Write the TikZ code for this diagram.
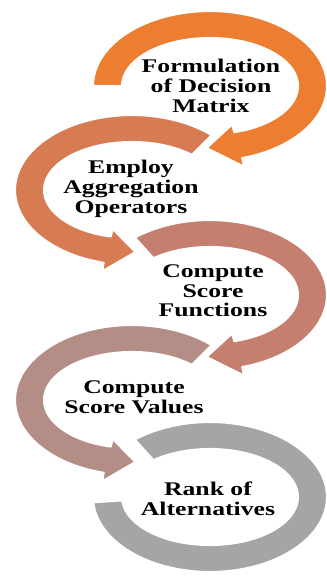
\documentclass[tikz,border=0pt]{standalone}
\usepackage{fontspec}
\setmainfont{Liberation Serif}[FakeStretch=1.33]
\usepackage{tikz}
\usetikzlibrary{positioning}
\definecolor{acorange}{RGB}{237,125,49}
\definecolor{acrust}{RGB}{215,123,82}
\definecolor{acsalmon}{RGB}{196,127,111}
\definecolor{acmauve}{RGB}{180,141,135}
\definecolor{acgrey}{RGB}{165,165,165}
\tikzstyle{ring} = [draw=white, line width=1.2pt, line join=round]
\tikzstyle{steptext} = [font=\bfseries\fontsize{11}{11.2}\selectfont, align=center, text=black]

\begin{document}
\begin{tikzpicture}[x=0.02cm, y=0.02cm]
\useasboundingbox (0,0) rectangle (326,-576);
% Ring centres
\coordinate (c1) at (210,-86);
\coordinate (c2) at (132,-190);
\coordinate (c3) at (210,-295);
\coordinate (c4) at (132,-400);
\coordinate (c5) at (210,-497);

% Last ring, no head
\fill[ring, fill=acgrey] ([shift={(c5)}]130:117 and 75) arc[start angle=130, end angle=-176, x radius=117, y radius=75]
  -- ([shift={(c5)}]-176:88 and 48) arc[start angle=-176, end angle=130, x radius=88, y radius=48] -- cycle;

% Left rings turn anticlockwise
\fill[ring, fill=acmauve] ([shift={(c4)}]47:117 and 75) arc[start angle=47, end angle=256, x radius=117, y radius=75]
  -- ([shift={(c4)}]256:124 and 84) -- ([shift={(c4)}]272:102 and 62) -- ([shift={(c4)}]256:80 and 40)
  -- ([shift={(c4)}]256:88 and 48) arc[start angle=256, end angle=47, x radius=88, y radius=48] -- cycle;

% Right rings turn clockwise
\fill[ring, fill=acsalmon] ([shift={(c3)}]130:117 and 75) arc[start angle=130, end angle=-74, x radius=117, y radius=75]
  -- ([shift={(c3)}]-74:124 and 84) -- ([shift={(c3)}]-92:102 and 62) -- ([shift={(c3)}]-74:80 and 40)
  -- ([shift={(c3)}]-74:88 and 48) arc[start angle=-74, end angle=130, x radius=88, y radius=48] -- cycle;

\fill[ring, fill=acrust] ([shift={(c2)}]47:117 and 75) arc[start angle=47, end angle=256, x radius=117, y radius=75]
  -- ([shift={(c2)}]256:124 and 84) -- ([shift={(c2)}]272:102 and 62) -- ([shift={(c2)}]256:80 and 40)
  -- ([shift={(c2)}]256:88 and 48) arc[start angle=256, end angle=47, x radius=88, y radius=48] -- cycle;

\fill[ring, fill=acorange] ([shift={(c1)}]180:117 and 75) arc[start angle=180, end angle=-74, x radius=117, y radius=75]
  -- ([shift={(c1)}]-74:124 and 84) -- ([shift={(c1)}]-92:102 and 62) -- ([shift={(c1)}]-74:80 and 40)
  -- ([shift={(c1)}]-74:88 and 48) arc[start angle=-74, end angle=180, x radius=88, y radius=48] -- cycle;

% Step texts
\node[steptext] (formulate) at (211,-86) {Formulation\\of Decision\\Matrix};
\node[steptext] (aggregate) at (131,-189) {Employ\\Aggregation\\Operators};
\node[steptext] (functions) at (213,-291) {Compute\\Score\\Functions};
\node[steptext] (values) at (134,-397) {Compute\\Score Values};
\node[steptext] (rank) at (208,-499) {Rank of\\Alternatives};
\end{tikzpicture}
\end{document}
